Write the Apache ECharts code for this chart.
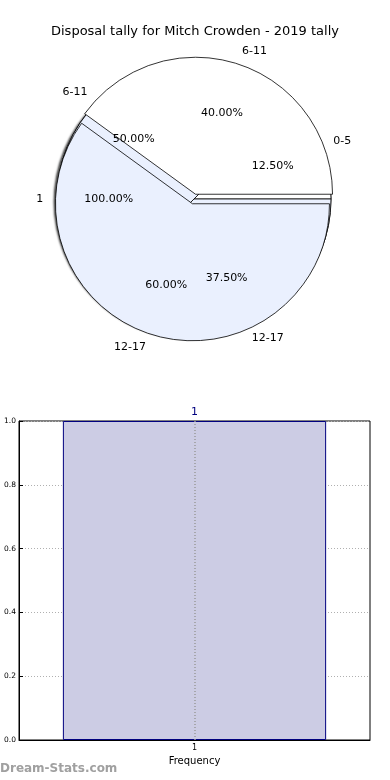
<!DOCTYPE html>
<html>
<head>
<meta charset="utf-8">
<script src="https://cdn.jsdelivr.net/npm/echarts@6/dist/echarts.min.js"></script>
<style>html,body{margin:0;padding:0;background:#fff;}#c{width:390px;height:780px;}</style>
</head>
<body>
<div id="c"></div>
<script>
// ---- data ----
var titleText = 'Disposal tally for Mitch Crowden - 2019 tally';
var pieANames = ['1'];
var pieAValues = [1];
var pieBNames = ['6-11', '12-17'];
var pieBValues = [2, 3];
var pieCNames = ['0-5', '6-11', '12-17'];
var pieCValues = [1, 4, 3];
var barCategories = ['1'];
var barValues = [1];
var yTicks = [0, 0.2, 0.4, 0.6, 0.8, 1.0];

var FONT = 'DejaVu Sans';
var LB = '#EAF0FE';
var CENTER = [194, 199];
var R = 137;

function mk(names, values, colors, selected) {
  return names.map(function (n, i) {
    return { name: n, value: values[i], selected: !!(selected && selected[i]), itemStyle: { color: colors[i] } };
  });
}
function pieSeries(names, values, colors, selected, extra) {
  var s = {
    type: 'pie', center: CENTER, radius: [0, R], clockwise: false, startAngle: 0,
    avoidLabelOverlap: false, selectedMode: selected ? 'multiple' : false, selectedOffset: 5,
    animation: false, silent: true, z: 2,
    itemStyle: { borderColor: '#000', borderWidth: 0.8 },
    label: { show: true, position: 'outside', formatter: '{b}', fontFamily: FONT, fontSize: 11, color: '#000', distanceToLabelLine: 0 },
    labelLine: { show: false, length: R * 0.1, length2: 0 },
    data: mk(names, values, colors, selected)
  };
  if (extra) for (var k in extra) s[k] = extra[k];
  return s;
}
function pctSeries(names, values, selected) {
  return {
    type: 'pie', center: CENTER, radius: [0, R * 1.2], clockwise: false, startAngle: 0,
    avoidLabelOverlap: false, animation: false, silent: true, z: 5,
    selectedMode: selected ? 'multiple' : false, selectedOffset: 5,
    itemStyle: { color: 'rgba(0,0,0,0)', borderWidth: 0 },
    label: { show: true, position: 'inner', fontFamily: FONT, fontSize: 11, color: '#000',
      formatter: function (p) { return p.percent.toFixed(2) + '%'; } },
    labelLine: { show: false },
    data: names.map(function (n, i) { return { name: n, value: values[i], selected: !!(selected && selected[i]) }; })
  };
}

var chart = echarts.init(document.getElementById('c'), null, { renderer: 'canvas' });
chart.setOption({
  backgroundColor: '#fff',
  title: { text: titleText, left: 'center', top: 20, textStyle: { fontFamily: FONT, fontSize: 13, fontWeight: 'normal', color: '#000' } },
  grid: { left: 19, right: 20, top: 421, bottom: 40, show: true, borderColor: '#000', borderWidth: 1, containLabel: false },
  xAxis: {
    type: 'category', data: barCategories,
    axisLine: { show: true, lineStyle: { color: '#000' } },
    axisTick: { show: true, alignWithLabel: true, inside: true, length: 4, lineStyle: { color: '#000' } },
    axisLabel: { fontFamily: FONT, fontSize: 8, color: '#000', margin: 4 },
    name: 'Frequency', nameLocation: 'middle', nameGap: 16,
    nameTextStyle: { fontFamily: FONT, fontSize: 10, color: '#000' },
    splitLine: { show: false }
  },
  yAxis: {
    type: 'value', min: 0, max: 1, interval: 0.2,
    axisLine: { show: true, lineStyle: { color: '#000' } },
    axisTick: { show: true, inside: true, length: 4, lineStyle: { color: '#000' } },
    axisLabel: { fontFamily: FONT, fontSize: 7.5, color: '#000', margin: 3,
      formatter: function (v) { return v.toFixed(1); } },
    splitLine: { show: true, lineStyle: { color: '#b0b0b0', type: [1, 2], width: 1 } }
  },
  graphic: [
    { type: 'text', left: 0, top: 763, style: { text: 'Dream-Stats.com', font: 'bold 12px "DejaVu Sans"', fill: '#a0a0a0' } }
  ],
  series: [
    pieSeries(pieANames, pieAValues, [LB], null, {
      itemStyle: { borderColor: '#000', borderWidth: 0.8, shadowBlur: 2, shadowOffsetX: -3, shadowOffsetY: 3, shadowColor: 'rgba(0,0,0,0.7)' }
    }),
    pctSeries(pieANames, pieAValues, null),
    pieSeries(pieCNames, pieCValues, ['#ffffff', LB, LB], null),
    pctSeries(pieCNames, pieCValues, null),
    pieSeries(pieBNames, pieBValues, ['#ffffff', LB], [true, true]),
    pctSeries(pieBNames, pieBValues, [true, true]),
    {
      type: 'bar', data: barValues, barWidth: '75%', animation: false,
      itemStyle: { color: '#CCCCE4', borderColor: '#00007F', borderWidth: 1 },
      label: { show: true, position: 'top', distance: 3, fontFamily: FONT, fontSize: 11, color: '#00007F', formatter: '{b}' },
      markLine: {
        silent: true, symbol: 'none', animation: false,
        label: { show: false },
        lineStyle: { color: '#999', type: [1, 2], width: 1.5 },
        data: [{ xAxis: '1' }]
      }
    }
  ]
});
</script>
</body>
</html>
